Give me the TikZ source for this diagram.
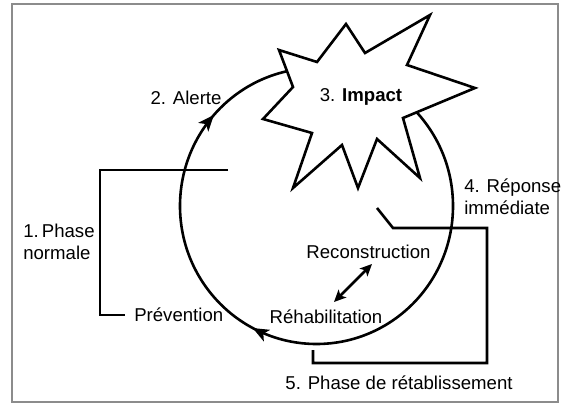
\documentclass[tikz,border=0pt]{standalone}
\usepackage{fontspec}
\setmainfont{Liberation Sans}
\usetikzlibrary{arrows.meta,decorations.markings}
\begin{document}
\begin{tikzpicture}[x=1pt,y=1pt,
  line width=2.6pt, line join=miter,
  lbl/.style={inner sep=0pt, font=\fontsize{18.6}{22.5}\selectfont},
  cyclearrow/.tip={Stealth[length=16pt,width=13pt,inset=4pt]},
  bothtip/.tip={Stealth[length=12pt,width=11pt,inset=3pt]}]
\useasboundingbox (0,0) rectangle (565,410);
% outer frame
\draw[black!45, line width=2pt] (12,8) rectangle (558,406);

% the disaster cycle (clockwise)
\coordinate (c) at (316.5,204);
\draw[postaction={decorate}, decoration={markings,
    mark=at position 0.327 with {\arrow{cyclearrow}},
    mark=at position 0.615 with {\arrow{cyclearrow}}}]
  (c) ++(0:136.5 and 138)
  arc[start angle=360, end angle=0, x radius=136.5, y radius=138];

% impact burst
\draw[fill=white] (279,360) -- (317,348) -- (346,386) -- (365,357) -- (430,395)
  -- (407,345) -- (475,322) -- (403,292) -- (420,232) -- (377,271) -- (358,222)
  -- (342,265) -- (293,222) -- (312,277) -- (263,291) -- (293,323) -- cycle;

% labels (multi-line ones are anchored on their last line)
\node[lbl, anchor=base] (alerte) at (186,305.4) {2. Alerte};
\node[lbl, anchor=base] (impact) at (361,308.4) {3. \textbf{Impact}};
\node[lbl, anchor=base west, align=left] (reponse) at (463,195.4) {4. Réponse\\immédiate};
\node[lbl, anchor=base west, align=left] (normale) at (22,150.4) {1.\,Phase\\normale};
\node[lbl, anchor=base west] (prev) at (133,88.4) {Prévention};
\node[lbl, anchor=base] (rehab) at (326,86.4) {Réhabilitation};
\node[lbl, anchor=base] (recon) at (368.5,151.4) {Reconstruction};
\node[lbl, anchor=base] (retab) at (399,20.4) {5. Phase de rétablissement};

% normal phase bracket
\coordinate (nptop) at (228,240);
\coordinate (npend) at (125,95);
\draw (nptop) -- (100,240) |- (npend);

% recovery bracket
\coordinate (rbstart) at (377,202);
\coordinate (rbend) at (313,60);
\draw (rbstart) -- (393,182) -- (487,182) -- (487,47) -- (313,47) -- (rbend);

% reconstruction <-> rehabilitation
\coordinate (rcA) at (372,146);
\coordinate (rcB) at (334,108);
\draw[{bothtip}-{bothtip}] (rcB) -- (rcA);
\end{tikzpicture}
\end{document}
